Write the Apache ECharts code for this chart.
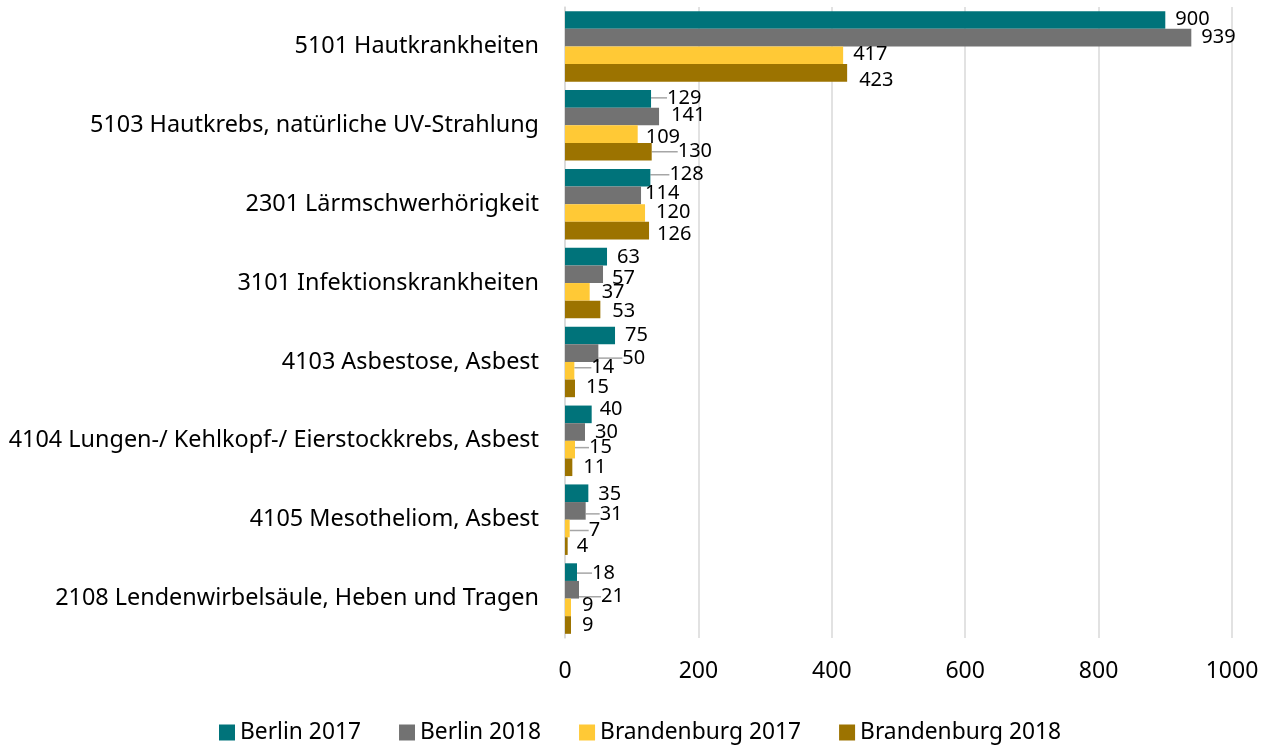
<!DOCTYPE html>
<html>
<head>
<meta charset="utf-8">
<script src="https://cdn.jsdelivr.net/npm/echarts@6/dist/echarts.min.js"></script>
<style>
  html, body { margin: 0; padding: 0; background: #fff; }
  #chart { width: 1268px; height: 747px; }
</style>
</head>
<body>
<div id="chart"></div>
<script>
// Anerkannte Berufskrankheiten nach BK-Nummer, Berlin und Brandenburg
const categories = [
  '5101 Hautkrankheiten',
  '5103 Hautkrebs, natürliche UV-Strahlung',
  '2301 Lärmschwerhörigkeit',
  '3101 Infektionskrankheiten',
  '4103 Asbestose, Asbest',
  '4104 Lungen-/ Kehlkopf-/ Eierstockkrebs, Asbest',
  '4105 Mesotheliom, Asbest',
  '2108 Lendenwirbelsäule, Heben und Tragen'
];
const berlin2017      = [900, 129, 128, 63, 75, 40, 35, 18];
const berlin2018      = [939, 141, 114, 57, 50, 30, 31, 21];
const brandenburg2017 = [417, 109, 120, 37, 14, 15, 7, 9];
const brandenburg2018 = [423, 130, 126, 53, 15, 11, 4, 9];
const seriesNames = ['Berlin 2017', 'Berlin 2018', 'Brandenburg 2017', 'Brandenburg 2018'];
const xTicks = [0, 200, 400, 600, 800, 1000];

const colors = ['#00737A', '#727272', '#FFC936', '#9C7300'];

// hand placement of value labels (pixel nudges) so crowded labels do not collide
const labelDx = [
  [5, 11, 14, 5, 5, 3, 5, 10],
  [5, 7, -1, 4, 19, 5, 9, 17],
  [5, 3, 6, 7, 12, 9, 14, 6],
  [7, 21, 3, 7, 6, 6, 4, 6]
];
const labelDy = [
  [-1, -1, -3, 1, 0, -5, 1, 1],
  [0, -1, -2, 4, 5, 0, 3, 7],
  [-1, 3, -1, 0, -3, -2, 2, -2],
  [7, 0, 4, 2, -1, 0, 0, 0]
];
// labels that sit far enough from their bar to get a leader line
const leader = [
  [0, 1, 1, 0, 0, 0, 0, 1],
  [0, 0, 0, 0, 1, 0, 1, 1],
  [0, 0, 0, 0, 1, 1, 1, 0],
  [0, 1, 0, 0, 0, 0, 0, 0]
];

const FONT = '"Noto Sans", "Open Sans", sans-serif';
const seriesData = [berlin2017, berlin2018, brandenburg2017, brandenburg2018];

const chart = echarts.init(document.getElementById('chart'), null, { renderer: 'canvas' });

const series = seriesData.map((vals, si) => ({
  name: seriesNames[si],
  type: 'bar',
  barGap: '0%',
  barCategoryGap: '10.6%',
  itemStyle: { color: colors[si] },
  data: vals.map((v, di) => ({
    value: v,
    labelLine: { show: !!leader[si][di] }
  })),
  label: {
    show: true,
    position: 'right',
    distance: 5,
    color: '#000',
    fontFamily: FONT,
    fontSize: 20
  },
  labelLine: {
    show: false,
    lineStyle: { color: '#a6a6a6', width: 1.5 }
  },
  labelLayout: function (p) {
    return { dx: labelDx[si][p.dataIndex], dy: labelDy[si][p.dataIndex] };
  }
}));

chart.setOption({
  animation: false,
  backgroundColor: '#fff',
  color: colors,
  grid: { left: 565, top: 7, width: 667, height: 631, containLabel: false },
  xAxis: {
    type: 'value',
    min: xTicks[0],
    max: xTicks[xTicks.length - 1],
    interval: xTicks[1] - xTicks[0],
    axisLine: { show: false },
    axisTick: { show: false },
    splitLine: { show: true, lineStyle: { color: '#d9d9d9', width: 1.5 } },
    axisLabel: {
      color: '#000', fontFamily: FONT, fontSize: 23, margin: 22,
      formatter: (v) => String(v)
    }
  },
  yAxis: {
    type: 'category',
    inverse: true,
    data: categories,
    axisLine: { show: true, lineStyle: { color: '#d9d9d9', width: 1.5 } },
    axisTick: { show: false },
    axisLabel: { color: '#000', fontFamily: FONT, fontSize: 23.4, margin: 26 }
  },
  legend: {
    data: seriesNames,
    left: 214,
    top: 716,
    icon: 'rect',
    itemWidth: 16,
    itemHeight: 16,
    itemGap: 38,
    textStyle: { color: '#000', fontFamily: FONT, fontSize: 22.8 }
  },
  series: series
});
</script>
</body>
</html>
